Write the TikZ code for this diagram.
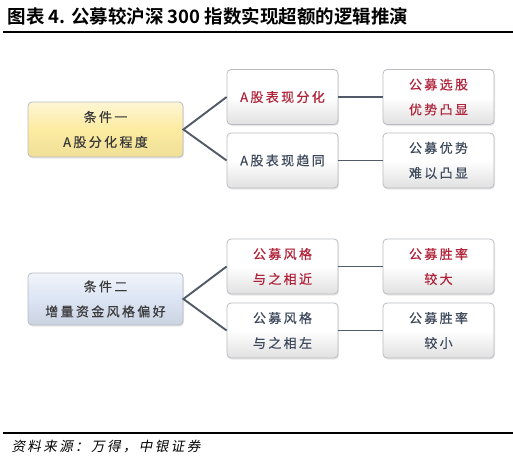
\documentclass[tikz,border=0pt]{standalone}
\usepackage{fontspec}
\usetikzlibrary{positioning,shadows}
\setmainfont{Noto Sans CJK SC}
\newfontfamily\boxfont[LetterSpace=18,FakeBold=0.4]{Noto Sans CJK SC}
\newfontfamily\titlefont{Noto Sans CJK SC Bold}
\newfontfamily\notefont[FakeSlant=0.2,LetterSpace=18]{Noto Sans CJK SC}
\definecolor{hl}{HTML}{B0233A}
\definecolor{slate}{HTML}{3E4A5C}
\definecolor{ink}{HTML}{3A3A3A}
\definecolor{link}{HTML}{505A68}
\definecolor{edge}{HTML}{B8BCC2}
\definecolor{condA}{HTML}{FCEBA0}
\definecolor{condB}{HTML}{DCE5F4}

\tikzset{
  cardbox/.style={draw=edge,line width=0.8pt,rounded corners=4pt,
    top color=white,bottom color=black!12,middle color=white,
    drop shadow={opacity=0.18,shadow xshift=1pt,shadow yshift=-1.5pt},
    minimum width=111pt,minimum height=55pt,align=center,
    font=\boxfont\fontsize{13}{25}\selectfont},
  condbox/.style={cardbox,minimum width=155pt,text=ink},
  linkline/.style={draw=link,line width=1.9pt}
}

\begin{document}
\begin{tikzpicture}[x=1pt,y=-1pt]
\useasboundingbox (0,0) rectangle (513,458);
% title and rules
\node[anchor=west,font=\titlefont\fontsize{18.5}{18.5}\selectfont] (title) at (4,16) {图表 4. 公募较沪深 300 指数实现超额的逻辑推演};
\draw[line width=1.4pt] (3,32) -- (513,32);
\draw[line width=1.4pt] (3,433) -- (513,433);
\node[anchor=west,font=\notefont\fontsize{13.5}{13.5}\selectfont] (note) at (8,447) {资料来源：万得，中银证券};

% conditions
\node[condbox,top color=condA!45,bottom color=condA!95!black,middle color=condA] (c1) at (105.5,129.5) {条件一\\A股分化程度};
\node[condbox,top color=condB!40,bottom color=condB!92!black,middle color=condB,minimum height=52pt] (c2) at (105.5,299) {条件二\\增量资金风格偏好};

% outcome pairs
\foreach \i/\y/\col/\mtxt/\rtxt in {1/97/hl/{A股表现分化}/{公募选股\\优势凸显},2/160.5/slate/{A股表现趋同}/{公募优势\\难以凸显},3/266.5/hl/{公募风格\\与之相近}/{公募胜率\\较大},4/330.5/slate/{公募风格\\与之相左}/{公募胜率\\较小}}{
  \node[cardbox,text=\col] (m\i) at (282.5,\y) {\mtxt};
  \node[cardbox,text=\col] (r\i) at (438.5,\y) {\rtxt};
  \draw[linkline] (m\i.east) -- (r\i.west);
}
\draw[linkline] (m1.west) -- (c1.east) -- (m2.west);
\draw[linkline] (m3.west) -- (c2.east) -- (m4.west);
\end{tikzpicture}
\end{document}
